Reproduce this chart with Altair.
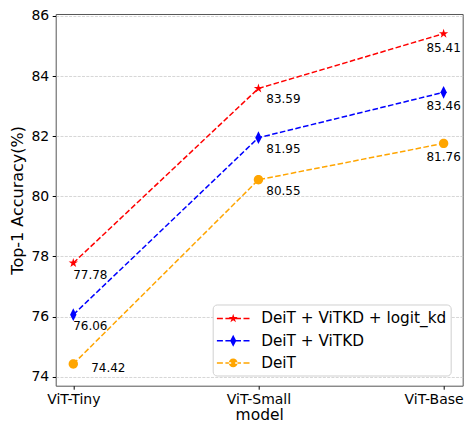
import math
import json
import altair as alt
import pandas as pd

# ---------------- data ----------------
models = ["ViT-Tiny", "ViT-Small", "ViT-Base"]
series = ["DeiT + ViTKD + logit_kd", "DeiT + ViTKD", "DeiT"]
acc_logit_kd = [77.78, 83.59, 85.41]
acc_vitkd = [76.06, 81.95, 83.46]
acc_deit = [74.42, 80.55, 81.76]
y_ticks = [74, 76, 78, 80, 82, 84, 86]

# ---------------- styles ----------------
colors = ["#ff0000", "#0000ff", "#ffa500"]
FONT = "DejaVu Sans"
DASH = [5.55, 2.4]

# label offsets (pixels) per model, with one exception
label_offsets = {"ViT-Tiny": (17, 11.5), "ViT-Small": (25, 11), "ViT-Base": (0, 14)}
label_offset_exceptions = {("DeiT", "ViT-Tiny"): (35, 4)}


def star_path(R, cx=0.0):
    ri = R * 0.381966
    pts = []
    for k in range(10):
        ang = math.radians(90 - 36 * k)
        r = R if k % 2 == 0 else ri
        pts.append((cx + r * math.cos(ang), -r * math.sin(ang)))
    return "M" + "L".join(f"{x:.4f},{y:.4f}" for x, y in pts) + "Z"


def diamond_path(hw, hh):
    return f"M0,{-hh}L{hw},0L0,{hh}L{-hw},0Z"


def circle_path(r):
    return f"M{-r},0A{r},{r},0,1,0,{r},0A{r},{r},0,1,0,{-r},0Z"


# chart markers (size 144 -> 6px per unit)
marker_paths = [star_path(0.817), diamond_path(0.53, 1.06), circle_path(0.78)]

# legend symbols (size 400 -> 10px per unit): dashed line + marker
dash_pieces = [(-1.63, -1.03), (-0.78, -0.2), (0.2, 0.78), (1.03, 1.63)]
dash_str = "".join(f"M{a},-0.075H{b}V0.075H{a}Z" for a, b in dash_pieces)
legend_paths = [
    dash_str + star_path(0.47),
    dash_str + diamond_path(0.31, 0.6),
    dash_str + circle_path(0.44),
]

rows = []
for s, vals in zip(series, [acc_logit_kd, acc_vitkd, acc_deit]):
    for i, (m, v) in enumerate(zip(models, vals)):
        rows.append({"series": s, "model": m, "idx": i, "acc": v})
df = pd.DataFrame(rows)

xs = alt.Scale(domain=[-0.095, 2.103], nice=False, zero=False)
ys = alt.Scale(domain=[73.698, 86.066], nice=False, zero=False)

x_axis = alt.Axis(
    values=[0, 1, 2],
    labelExpr=json.dumps(models) + "[datum.value]",
    title="model",
    grid=False,
    tickSize=3.5,
    labelPadding=3,
    labelFontSize=14,
    labelOffset={"condition": {"test": "datum.value == 2", "value": -10}, "value": 0},
    titleFontSize=15.5,
    titlePadding=1,
    labelFlush=False,
)
y_axis = alt.Axis(
    values=y_ticks,
    title="Top-1 Accuracy(%)",
    grid=True,
    gridDash=[3, 1.3],
    gridColor="#cccccc",
    gridWidth=0.8,
    tickSize=3.5,
    labelPadding=3.5,
    labelFontSize=14,
    titleFontSize=16,
    titlePadding=5,
)

base = alt.Chart(df).encode(
    x=alt.X("idx:Q", scale=xs, axis=x_axis),
    y=alt.Y("acc:Q", scale=ys, axis=y_axis),
)

layers = []
for s, c in zip(series, colors):
    layers.append(
        base.transform_filter(alt.datum.series == s).mark_line(
            color=c, strokeDash=DASH, strokeWidth=1.5
        )
    )
for s, c, p in zip(series, colors, marker_paths):
    layers.append(
        base.transform_filter(alt.datum.series == s).mark_point(
            shape=p, filled=True, color=c, size=144, opacity=1, strokeWidth=0
        )
    )
for s in series:
    for i, m in enumerate(models):
        dx, dy = label_offset_exceptions.get((s, m), label_offsets[m])
        layers.append(
            base.transform_filter((alt.datum.series == s) & (alt.datum.idx == i))
            .mark_text(dx=dx, dy=dy, fontSize=12, font=FONT, color="#000000",
                       align="center", baseline="middle")
            .encode(text=alt.Text("acc:Q", format=".2f"))
        )

legend_def = dict(
    orient="none",
    legendX=157,
    legendY=290.5,
    title=None,
    titlePadding=0,
    padding=4,
    rowPadding=3.2,
    labelFontSize=15.3,
    labelFont=FONT,
    labelColor="#000000",
    labelLimit=400,
    symbolSize=400,
    symbolStrokeWidth=0,
    symbolOffset=6.5,
    labelOffset=18,
    fillColor="#ffffff",
    strokeColor="#d0d0d0",
    cornerRadius=4,
)

legend_layer = base.transform_filter("false").mark_point(
    filled=True, opacity=1, strokeWidth=0
).encode(
    color=alt.Color("series:N", scale=alt.Scale(domain=series, range=colors),
                    legend=alt.Legend(**legend_def)),
    shape=alt.Shape("series:N", scale=alt.Scale(domain=series, range=legend_paths),
                    legend=alt.Legend(**legend_def)),
)
layers.append(legend_layer)

chart = (
    alt.layer(*layers)
    .properties(
        width=407,
        height=371.7,
        autosize=alt.AutoSizeParams(type="none"),
        padding={"left": 47.7, "top": 6, "right": 1, "bottom": 50},
    )
    .configure_view(stroke="#555555", strokeWidth=1)
    .configure_axis(
        labelFont=FONT,
        titleFont=FONT,
        labelColor="#000000",
        titleColor="#000000",
        tickColor="#000000",
        domain=False,
        titleFontWeight="normal",
    )
)

chart.save("out.html", embed_options={"renderer": "svg", "actions": False})
